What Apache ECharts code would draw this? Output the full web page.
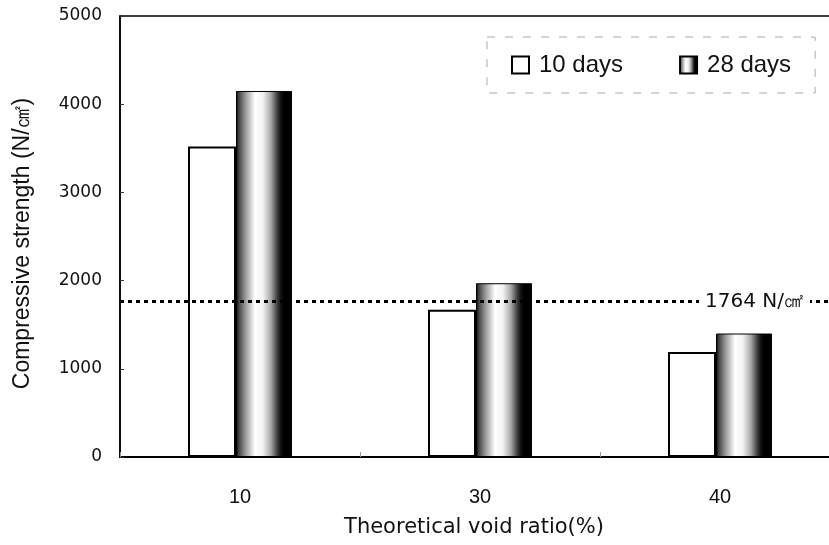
<!DOCTYPE html>
<html>
<head>
<meta charset="utf-8">
<script src="https://cdn.jsdelivr.net/npm/echarts@6/dist/echarts.min.js"></script>
<style>html,body{margin:0;padding:0;background:#fff;}#c{width:829px;height:545px;}</style>
</head>
<body>
<div id="c"></div>
<script>
var categories = ['10', '30', '40'];
var days10 = [3520, 1670, 1190];
var days28 = [4150, 1970, 1400];
var criterion = 1764;
var yTicks = [0, 1000, 2000, 3000, 4000, 5000];

var chart = echarts.init(document.getElementById('c'), null, {renderer: 'canvas'});
var grad = new echarts.graphic.LinearGradient(0, 0, 1, 0, [
  {offset: 0, color: '#000'},
  {offset: 0.05, color: '#444'},
  {offset: 0.17, color: '#999'},
  {offset: 0.34, color: '#fff'},
  {offset: 0.48, color: '#f2f2f2'},
  {offset: 0.62, color: '#aaa'},
  {offset: 0.73, color: '#444'},
  {offset: 0.8, color: '#111'},
  {offset: 0.86, color: '#000'},
  {offset: 1, color: '#000'}
]);
chart.setOption({
  animation: false,
  backgroundColor: '#fff',
  grid: {left: 120, right: -11, top: 16, bottom: 88, outerBoundsMode: 'none', containLabel: false,
    show: true, borderColor: '#000', borderWidth: 1.5, backgroundColor: 'transparent'},
  legend: {
    left: 487, top: 37,
    padding: [16, 24, 16, 24],
    itemGap: 56,
    itemWidth: 17, itemHeight: 17,
    borderColor: '#aaa', borderWidth: 1, borderType: [8, 10],
    textStyle: {fontFamily: 'Liberation Sans', fontSize: 24, color: '#111', padding: [0, 0, 0, 5]},
    data: [{name: '10 days', icon: 'rect'}, {name: '28 days', icon: 'rect'}]
  },
  xAxis: {
    type: 'category',
    data: categories,
    name: 'Theoretical void ratio(%)',
    nameLocation: 'middle',
    nameGap: 60,
    nameTextStyle: {fontFamily: 'DejaVu Sans', fontSize: 21, color: '#111', padding: [0, 12, 0, 0]},
    axisLine: {lineStyle: {color: '#000', width: 2}},
    axisTick: {show: true, inside: true, length: 5, lineStyle: {color: '#999'}},
    axisLabel: {fontFamily: 'Liberation Sans Narrow, Liberation Sans', fontSize: 20, color: '#111', margin: 30}
  },
  yAxis: {
    type: 'value',
    min: yTicks[0], max: yTicks[yTicks.length - 1], interval: 1000,
    name: 'Compressive strength (N/㎠)',
    nameLocation: 'middle',
    nameGap: 86,
    nameTextStyle: {fontFamily: 'Liberation Sans', fontSize: 23, color: '#111', padding: [0, 14, 0, 0]},
    axisLine: {show: true, lineStyle: {color: '#000', width: 1.5}},
    axisTick: {show: true, inside: true, length: 4, lineStyle: {color: '#333'}},
    splitLine: {show: false},
    axisLabel: {fontFamily: 'DejaVu Sans', fontSize: 17, color: '#111', margin: 18,
      formatter: function (v) { return String(v); }}
  },
  series: [
    {
      name: '10 days', type: 'bar', data: days10, barWidth: 48, barGap: '0%',
      itemStyle: {color: '#fff', borderColor: '#000', borderWidth: 2},
      markLine: {
        silent: true, symbol: 'none',
        lineStyle: {color: '#000', width: 3, type: [4, 4]},
        label: {
          show: true, position: 'insideEndTop', distance: [30, -12],
          formatter: criterion + ' N/㎠',
          fontFamily: 'DejaVu Sans', fontSize: 20, color: '#111',
          backgroundColor: '#fff', padding: [2, 6]
        },
        data: [{yAxis: criterion}]
      }
    },
    {
      name: '28 days', type: 'bar', data: days28, barWidth: 56,
      itemStyle: {color: grad, borderColor: '#000', borderWidth: 1}
    }
  ]
});
</script>
</body>
</html>
